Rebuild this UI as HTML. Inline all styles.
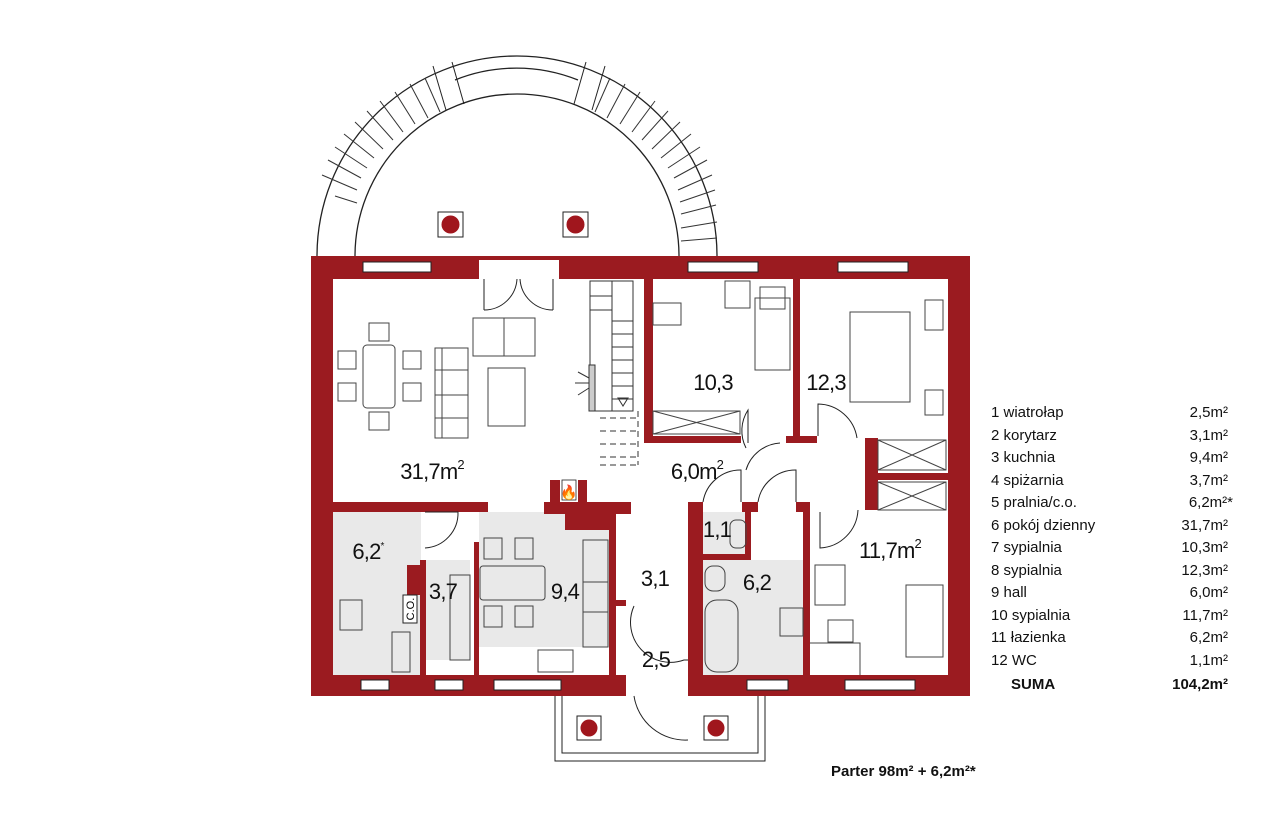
<!DOCTYPE html>
<html><head><meta charset="utf-8"><style>
html,body{margin:0;padding:0;background:#fff;}
svg{display:block}
text{font-family:"Liberation Sans",sans-serif;}
</style></head><body>
<svg width="1280" height="822" viewBox="0 0 1280 822" xmlns="http://www.w3.org/2000/svg">
<!-- terrace arc -->
<g fill="none" stroke="#222" stroke-width="1.3">
<path d="M317 256 A200 200 0 0 1 717 256"/>
<path d="M355 256 A162 162 0 0 1 679 256"/>
<path d="M455 80 A165 165 0 0 1 578 80"/>
<g stroke-width="1">
<line x1="433" y1="66" x2="446" y2="110"/><line x1="452" y1="62" x2="464" y2="104"/>
<line x1="586" y1="62" x2="574" y2="104"/><line x1="605" y1="66" x2="592" y2="110"/>
</g>
</g>
<g stroke="#333" stroke-width="1">
<line x1="425" y1="78" x2="440" y2="112"/><line x1="410" y1="84" x2="428" y2="118"/><line x1="395" y1="92" x2="415" y2="124"/>
<line x1="380" y1="101" x2="403" y2="132"/><line x1="367" y1="111" x2="393" y2="140"/><line x1="355" y1="122" x2="383" y2="149"/>
<line x1="344" y1="134" x2="374" y2="158"/><line x1="335" y1="147" x2="367" y2="168"/><line x1="328" y1="160" x2="361" y2="178"/>
<line x1="322" y1="175" x2="357" y2="190"/><line x1="335" y1="196" x2="357" y2="203"/>
<line x1="610" y1="78" x2="595" y2="112"/><line x1="625" y1="84" x2="607" y2="118"/><line x1="640" y1="92" x2="620" y2="124"/>
<line x1="655" y1="101" x2="632" y2="132"/><line x1="668" y1="111" x2="642" y2="140"/><line x1="680" y1="122" x2="652" y2="149"/>
<line x1="691" y1="134" x2="661" y2="158"/><line x1="700" y1="147" x2="668" y2="168"/><line x1="707" y1="160" x2="674" y2="178"/>
<line x1="712" y1="175" x2="678" y2="190"/><line x1="715" y1="190" x2="680" y2="202"/><line x1="716" y1="205" x2="681" y2="214"/>
<line x1="717" y1="222" x2="681" y2="228"/><line x1="717" y1="238" x2="681" y2="241"/>
</g>
<g stroke="#222" stroke-width="1" fill="#fff"><rect x="438" y="212" width="25" height="25"/><rect x="563" y="212" width="25" height="25"/></g>
<g fill="#a0161d"><circle cx="450.5" cy="224.5" r="9"/><circle cx="575.5" cy="224.5" r="9"/></g>

<!-- porch -->
<rect x="555" y="695" width="210" height="66" fill="#fff" stroke="#222" stroke-width="1"/>
<rect x="562" y="695" width="196" height="58" fill="none" stroke="#222" stroke-width="1"/>
<g stroke="#222" stroke-width="1" fill="#fff"><rect x="577" y="716" width="24" height="24"/><rect x="704" y="716" width="24" height="24"/></g>
<g fill="#a0161d"><circle cx="589" cy="728" r="8.5"/><circle cx="716" cy="728" r="8.5"/></g>

<!-- outer walls -->
<rect x="311" y="256" width="659" height="440" fill="#9b1b20"/>
<rect x="333" y="279" width="615" height="396" fill="#fff"/>
<!-- gray fills -->
<g fill="#e9e9e9">
<rect x="333" y="512" width="88" height="163"/>
<rect x="426" y="560" width="44" height="100"/>
<rect x="479" y="512" width="130" height="135"/>
<rect x="703" y="512" width="45" height="48"/>
<rect x="703" y="560" width="101" height="115"/>
</g>
<!-- interior walls -->
<g fill="#9b1b20">
<rect x="644" y="279" width="9" height="164"/>
<rect x="644" y="436" width="97" height="7"/>
<rect x="793" y="279" width="7" height="164"/>
<rect x="786" y="436" width="31" height="7"/>
<rect x="865" y="438" width="13" height="72"/>
<rect x="865" y="473" width="83" height="7"/>
<rect x="333" y="502" width="155" height="10"/>
<rect x="544" y="502" width="87" height="12"/>
<rect x="565" y="514" width="44" height="16"/>
<rect x="550" y="480" width="10" height="22"/>
<rect x="578" y="480" width="9" height="22"/>
<rect x="609" y="514" width="7" height="161"/>
<rect x="616" y="600" width="10" height="6"/>
<rect x="688" y="502" width="15" height="173"/>
<rect x="688" y="502" width="14" height="10"/>
<rect x="742" y="502" width="16" height="10"/>
<rect x="745" y="502" width="6" height="52"/>
<rect x="703" y="554" width="48" height="6"/>
<rect x="803" y="502" width="7" height="173"/>
<rect x="796" y="502" width="14" height="10"/>
<rect x="407" y="565" width="15" height="30"/>
<rect x="420" y="560" width="6" height="115"/>
<rect x="474" y="542" width="5" height="133"/>
</g>
<rect x="562" y="480" width="14" height="20" fill="#fff" stroke="#222" stroke-width="0.8"/>
<text x="569" y="497" font-size="14" text-anchor="middle" fill="#e8590c">🔥</text>

<!-- windows / openings -->
<g fill="#fff" stroke="#222" stroke-width="1">
<rect x="363" y="262" width="68" height="10"/>
<rect x="479" y="260" width="80" height="19" stroke="none"/>
<rect x="688" y="262" width="70" height="10"/>
<rect x="838" y="262" width="70" height="10"/>
<rect x="361" y="680" width="28" height="10"/>
<rect x="435" y="680" width="28" height="10"/>
<rect x="494" y="680" width="67" height="10"/>
<rect x="747" y="680" width="41" height="10"/>
<rect x="845" y="680" width="70" height="10"/>
<rect x="626" y="675" width="62" height="21" stroke="none"/>
<rect x="741" y="437" width="45" height="6" stroke="none"/>
<rect x="817" y="436" width="48" height="7" stroke="none"/>
<rect x="703" y="502" width="39" height="10" stroke="none"/>
<rect x="758" y="502" width="38" height="10" stroke="none"/>
<rect x="488" y="502" width="56" height="10" stroke="none"/>
</g>
<!-- doors -->
<g fill="none" stroke="#222" stroke-width="1">
<path d="M484 279 V310 M484 310 A33 33 0 0 0 517 279"/><path d="M553 279 V310 M553 310 A33 33 0 0 1 520 279"/>
<path d="M748 443 V410 A38 38 0 0 0 746 448"/>
<path d="M780 443 A38 38 0 0 0 746 470"/>
<path d="M818 436 V404 A40 40 0 0 1 857 438"/>
<path d="M820 512 V548 A40 40 0 0 0 858 510"/>
<path d="M703 502 A38 38 0 0 1 741 470 V502"/>
<path d="M758 502 A38 38 0 0 1 796 470 V502"/>
<path d="M425 512 H458 A35 35 0 0 1 425 548"/>
<path d="M634 606 A40 40 0 0 0 684 660 H688"/>
<path d="M634 696 A52 52 0 0 0 688 740"/>
</g>
<!-- stairs -->
<g fill="none" stroke="#333" stroke-width="1">
<rect x="590" y="281" width="43" height="130"/>
<line x1="612" y1="281" x2="612" y2="411"/>
<path d="M590 296 H612 M590 310 H612 M612 321 H633 M612 334 H633 M612 347 H633 M612 360 H633 M612 373 H633 M612 386 H633 M612 399 H633"/>
<path d="M618 398 l5 8 l5 -8z"/>
<path stroke-dasharray="6 4" d="M600 418 H638 M600 431 H638 M600 444 H638 M600 457 H638 M638 411 V465 M600 465 H638"/>
<rect x="589" y="365" width="6" height="46" fill="#ccc"/>
<path d="M575 383 L589 383 M578 372 L589 378 M578 395 L589 388"/>
</g>
<!-- furniture -->
<g fill="none" stroke="#444" stroke-width="1">
<rect x="363" y="345" width="32" height="63" rx="4"/>
<rect x="369" y="323" width="20" height="18"/><rect x="369" y="412" width="20" height="18"/>
<rect x="338" y="351" width="18" height="18"/><rect x="338" y="383" width="18" height="18"/>
<rect x="403" y="351" width="18" height="18"/><rect x="403" y="383" width="18" height="18"/>
<rect x="435" y="348" width="33" height="90"/><path d="M435 370 H468 M435 395 H468 M435 418 H468 M442 348 V438"/>
<rect x="473" y="318" width="62" height="38"/><line x1="504" y1="318" x2="504" y2="356"/>
<rect x="488" y="368" width="37" height="58"/>
<rect x="653" y="303" width="28" height="22"/><rect x="725" y="281" width="25" height="27"/>
<rect x="755" y="298" width="35" height="72"/><rect x="760" y="287" width="25" height="22"/>
<rect x="653" y="411" width="87" height="23"/><path d="M653 411 L740 434 M740 411 L653 434"/>
<rect x="850" y="312" width="60" height="90"/><rect x="925" y="300" width="18" height="30"/><rect x="925" y="390" width="18" height="25"/>
<rect x="878" y="440" width="68" height="30"/><path d="M878 440 L946 470 M946 440 L878 470"/>
<rect x="878" y="482" width="68" height="28"/><path d="M878 482 L946 510 M946 482 L878 510"/>
<rect x="815" y="565" width="30" height="40"/><rect x="906" y="585" width="37" height="72"/>
<rect x="828" y="620" width="25" height="22"/><path d="M810 643 H860 V675"/>
<rect x="484" y="538" width="18" height="21"/><rect x="515" y="538" width="18" height="21"/>
<rect x="480" y="566" width="65" height="34" rx="3"/>
<rect x="484" y="606" width="18" height="21"/><rect x="515" y="606" width="18" height="21"/>
<rect x="583" y="540" width="25" height="107"/><rect x="583" y="582" width="25" height="30"/>
<rect x="538" y="650" width="35" height="22"/><rect x="340" y="600" width="22" height="30"/><rect x="392" y="632" width="18" height="40"/>
<rect x="705" y="600" width="33" height="72" rx="12"/><rect x="705" y="566" width="20" height="25" rx="8"/>
<rect x="780" y="608" width="23" height="28"/><rect x="730" y="520" width="16" height="28" rx="6"/>
<rect x="450" y="575" width="20" height="85"/>
</g>
<rect x="403" y="595" width="14" height="28" fill="#fff" stroke="#222"/>
<text x="410" y="609" font-size="11" text-anchor="middle" transform="rotate(-90 410 609)" dy="4">C.O.</text>

<!-- room labels -->
<g font-size="22" fill="#111" text-anchor="middle" letter-spacing="-0.8">
<text x="432" y="479">31,7m<tspan font-size="13" dy="-10">2</tspan></text>
<text x="713" y="390">10,3</text>
<text x="826" y="390">12,3</text>
<text x="697" y="479">6,0m<tspan font-size="13" dy="-10">2</tspan></text>
<text x="368" y="559">6,2<tspan font-size="10" dy="-10">*</tspan></text>
<text x="443" y="599">3,7</text>
<text x="565" y="599">9,4</text>
<text x="655" y="586">3,1</text>
<text x="656" y="667">2,5</text>
<text x="717" y="537">1,1</text>
<text x="757" y="590">6,2</text>
<text x="890" y="558">11,7m<tspan font-size="13" dy="-10">2</tspan></text>
</g>

<!-- legend -->
<g font-size="15" fill="#111">
<text x="991" y="417">1  wiatrołap</text><text x="1228" y="417" text-anchor="end">2,5m²</text>
<text x="991" y="440">2  korytarz</text><text x="1228" y="440" text-anchor="end">3,1m²</text>
<text x="991" y="462">3  kuchnia</text><text x="1228" y="462" text-anchor="end">9,4m²</text>
<text x="991" y="485">4  spiżarnia</text><text x="1228" y="485" text-anchor="end">3,7m²</text>
<text x="991" y="507">5  pralnia/c.o.</text><text x="1233" y="507" text-anchor="end">6,2m²*</text>
<text x="991" y="530">6  pokój dzienny</text><text x="1228" y="530" text-anchor="end">31,7m²</text>
<text x="991" y="552">7  sypialnia</text><text x="1228" y="552" text-anchor="end">10,3m²</text>
<text x="991" y="575">8  sypialnia</text><text x="1228" y="575" text-anchor="end">12,3m²</text>
<text x="991" y="597">9  hall</text><text x="1228" y="597" text-anchor="end">6,0m²</text>
<text x="991" y="620">10 sypialnia</text><text x="1228" y="620" text-anchor="end">11,7m²</text>
<text x="991" y="642">11 łazienka</text><text x="1228" y="642" text-anchor="end">6,2m²</text>
<text x="991" y="665">12 WC</text><text x="1228" y="665" text-anchor="end">1,1m²</text>
<text x="1011" y="689" font-weight="bold">SUMA</text><text x="1228" y="689" text-anchor="end" font-weight="bold">104,2m²</text>
</g>
<text x="831" y="776" font-size="15" font-weight="bold" fill="#111">Parter  98m² + 6,2m²*</text>
</svg>
</body></html>
